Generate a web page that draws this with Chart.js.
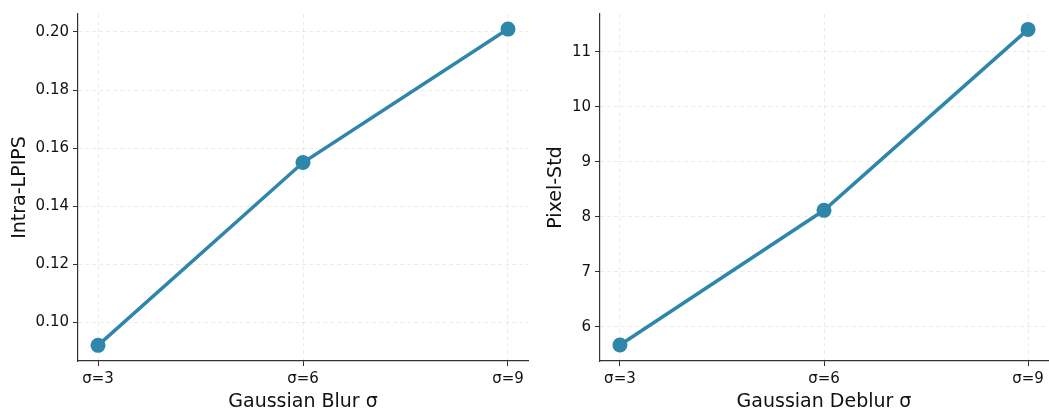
<!DOCTYPE html>
<html>
<head>
<meta charset="utf-8">
<script src="https://cdn.jsdelivr.net/npm/chart.js@4/dist/chart.umd.min.js"></script>
<style>
  html, body { margin: 0; padding: 0; background: #fff; }
  #wrap { position: relative; width: 1049px; height: 413px; }
  .box { position: absolute; top: 0; height: 413px; }
</style>
</head>
<body>
<div id="wrap">
  <div class="box" style="left:0;width:540px"><canvas id="blurChart"></canvas></div>
  <div class="box" style="left:540px;width:509px"><canvas id="deblurChart"></canvas></div>
</div>
<script>
// sigma levels shared by both panels
const sigmas = [3, 6, 9];
const sigmaLabels = ['σ=3', 'σ=6', 'σ=9'];

// left panel: Gaussian Blur
const blurLpips = [0.092, 0.155, 0.201];
const blurTicks = [0.10, 0.12, 0.14, 0.16, 0.18, 0.20];

// right panel: Gaussian Deblur
const deblurStd = [5.67, 8.12, 11.41];
const deblurTicks = [6, 7, 8, 9, 10, 11];

const LINE = '#2e86ab';
const AXIS = '#333333';
const FONT = 'DejaVu Sans';

function makeChart(id, opts) {
    const ctx = document.getElementById(id);
    return new Chart(ctx.getContext('2d'), {
        type: 'line',
        data: {
            datasets: [{
                data: sigmas.map((s, i) => ({ x: s, y: opts.values[i] })),
                borderColor: LINE,
                backgroundColor: LINE,
                borderWidth: 3.5,
                pointRadius: 7.5,
                pointHoverRadius: 7.5,
                pointBorderWidth: 0,
                tension: 0,
                clip: false
            }]
        },
        options: {
            responsive: true,
            maintainAspectRatio: false,
            animation: false,
            events: [],
            layout: {
                autoPadding: false,
                padding: { top: 14, right: opts.padRight, bottom: 0, left: 0 }
            },
            plugins: { legend: { display: false }, tooltip: { enabled: false } },
            scales: {
                x: {
                    type: 'linear',
                    min: 2.707,
                    max: 9.293,
                    afterBuildTicks: s => { s.ticks = sigmas.map(v => ({ value: v })); },
                    afterFit: s => { s.height = 52; s.paddingLeft = 0; s.paddingRight = 0; },
                    ticks: {
                        color: '#111',
                        font: { family: FONT, size: 15 },
                        padding: 4,
                        maxRotation: 0,
                        callback: v => sigmaLabels[sigmas.indexOf(v)]
                    },
                    grid: {
                        color: 'rgba(0,0,0,0.08)',
                        tickColor: AXIS,
                        tickLength: 5,
                        tickBorderDash: []
                    },
                    border: { display: true, color: AXIS, width: 1.2, dash: [4, 3] },
                    title: {
                        display: true,
                        text: opts.xTitle,
                        color: '#111',
                        font: { family: FONT, size: 19 },
                        padding: { top: 0, bottom: 0 }
                    }
                },
                y: {
                    min: opts.yMin,
                    max: opts.yMax,
                    afterBuildTicks: s => { s.ticks = opts.ticks.map(v => ({ value: v })); },
                    afterFit: s => { s.width = opts.yWidth; },
                    ticks: {
                        color: '#111',
                        font: { family: FONT, size: 15 },
                        padding: 4,
                        callback: v => opts.fmt(v)
                    },
                    grid: {
                        color: 'rgba(0,0,0,0.08)',
                        tickColor: AXIS,
                        tickLength: 5,
                        tickBorderDash: []
                    },
                    border: { display: true, color: AXIS, width: 1.2, dash: [4, 3] },
                    title: {
                        display: true,
                        text: opts.yTitle,
                        color: '#111',
                        font: { family: FONT, size: 19 },
                        padding: { top: opts.titlePad, bottom: 0 }
                    }
                }
            }
        }
    });
}

makeChart('blurChart', {
    values: blurLpips,
    ticks: blurTicks,
    yMin: 0.0866,
    yMax: 0.2062,
    yWidth: 78,
    padRight: 12,
    titlePad: 9,
    xTitle: 'Gaussian Blur σ',
    yTitle: 'Intra-LPIPS',
    fmt: v => v.toFixed(2)
});

makeChart('deblurChart', {
    values: deblurStd,
    ticks: deblurTicks,
    yMin: 5.38,
    yMax: 11.69,
    yWidth: 60,
    padRight: 1,
    titlePad: 5,
    xTitle: 'Gaussian Deblur σ',
    yTitle: 'Pixel-Std',
    fmt: v => String(v)
});
</script>
</body>
</html>
